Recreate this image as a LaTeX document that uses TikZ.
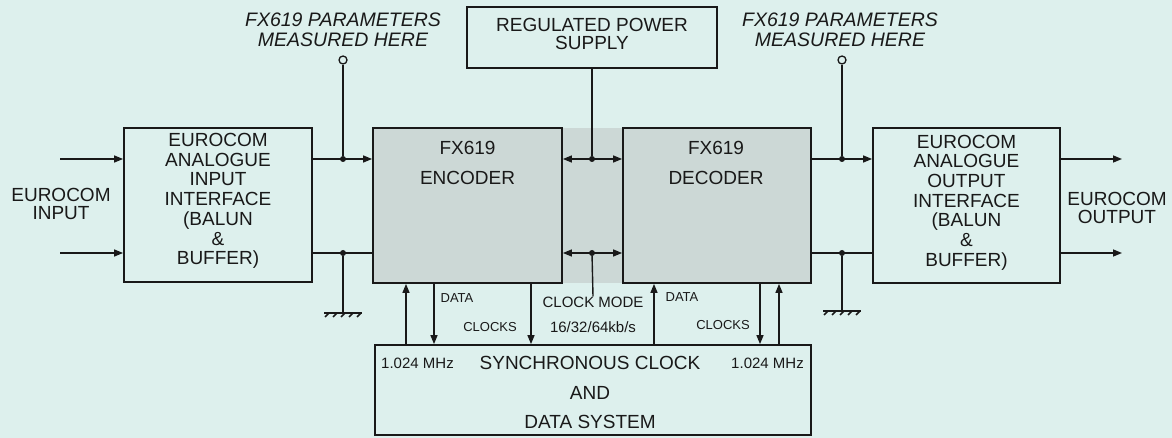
\documentclass[tikz,border=0pt]{standalone}
\usepackage{fontspec}
\setmainfont{Liberation Sans}
\usetikzlibrary{arrows.meta}
\definecolor{bg}{RGB}{221,240,237}
\definecolor{shade}{RGB}{204,216,214}
\definecolor{ink}{RGB}{25,25,25}
\begin{document}
\begin{tikzpicture}[x=1pt,y=-1pt,
  box/.style={draw=ink, line width=1.8pt, inner sep=0pt, rectangle},
  sbox/.style={box, fill=shade},
  wire/.style={draw=ink, line width=1.4pt},
  arr/.style={wire, -{Triangle[length=9pt,width=7pt]}},
  darr/.style={wire, {Triangle[length=9pt,width=7pt]}-{Triangle[length=9pt,width=7pt]}},
  big/.style={text=ink, align=center, font=\fontsize{19}{19.7}\selectfont, inner sep=0pt},
  ital/.style={text=ink, align=center, font=\fontsize{19.5}{20}\selectfont\itshape, inner sep=0pt},
  small/.style={text=ink, align=center, font=\fontsize{13}{14}\selectfont, inner sep=0pt},
  mid/.style={text=ink, align=center, font=\fontsize{15}{16}\selectfont, inner sep=0pt},
  dot/.style={circle, fill=ink, minimum size=6pt, inner sep=0pt},
  probe/.style={circle, draw=ink, line width=1.3pt, minimum size=8pt, inner sep=0pt, fill=bg},
  gnd/.style={draw=ink, line width=1.6pt}
]
\fill[bg] (0,0) rectangle (1172,438);
\useasboundingbox (0,0) rectangle (1172,438);

% shaded gap between encoder and decoder
\node[fill=shade, minimum width=61pt, minimum height=155pt, inner sep=0pt] (gap) at (592.5,205.5) {};

% boxes
\node[box, minimum width=188pt, minimum height=154pt] (inbox) at (218,205) {};
\node[sbox, minimum width=189pt, minimum height=155pt] (enc) at (467.5,205.5) {};
\node[sbox, minimum width=188pt, minimum height=155pt] (dec) at (717,205.5) {};
\node[box, minimum width=187pt, minimum height=155pt] (outbox) at (966.5,205.5) {};
\node[box, minimum width=250pt, minimum height=61pt] (psu) at (592,37.5) {};
\node[box, minimum width=436pt, minimum height=90pt] (sync) at (593,390) {};

% box texts
\node[big] (tin) at (218,201) {EUROCOM\\ANALOGUE\\INPUT\\INTERFACE\\(BALUN\\\&\\BUFFER)};
\node[big] (tout) at (966.5,202.5) {EUROCOM\\ANALOGUE\\OUTPUT\\INTERFACE\\(BALUN\\\&\\BUFFER)};
\node[big, font=\fontsize{19}{30}\selectfont] (tenc) at (467.5,163) {FX619\\ENCODER};
\node[big, font=\fontsize{19}{30}\selectfont] (tdec) at (716,163) {FX619\\DECODER};
\node[big, font=\fontsize{19}{18}\selectfont] (tpsu) at (592,34) {REGULATED POWER\\SUPPLY};
\node[big, font=\fontsize{19}{29.5}\selectfont] (tsync) at (590,392.5) {SYNCHRONOUS CLOCK\\AND\\DATA SYSTEM};
\node[big, font=\fontsize{19}{17.5}\selectfont] (tei) at (61,204) {EUROCOM\\INPUT};
\node[big, font=\fontsize{19}{17.5}\selectfont] (teo) at (1117,208) {EUROCOM\\OUTPUT};

% probe labels
\node[ital] (pl1) at (343,30) {FX619 PARAMETERS\\MEASURED HERE};
\node[ital] (pl2) at (840,30) {FX619 PARAMETERS\\MEASURED HERE};

% small labels
\node[small] (d1) at (457,298) {DATA};
\node[small] (c1) at (490,327) {CLOCKS};
\node[small] (d2) at (682,297) {DATA};
\node[small] (c2) at (723,325) {CLOCKS};
\node[mid] (cm) at (593,302) {CLOCK MODE};
\node[mid] (rate) at (593,327) {16/32/64kb/s};
\node[mid] (m1) at (417.5,363) {1.024 MHz};
\node[mid] (m2) at (767.5,363) {1.024 MHz};

% junction dots and probes
\node[dot] (jL1) at (343,159) {};
\node[dot] (jL2) at (343,253) {};
\node[dot] (jR1) at (842,159) {};
\node[dot] (jR2) at (842,253) {};
\node[dot] (jM1) at (592,159) {};
\node[dot] (jM2) at (592,253) {};
\node[probe] (pL) at (343,60) {};
\node[probe] (pR) at (842,60) {};

% input / output leads
\coordinate (i1) at (60,159);
\coordinate (i2) at (60,253);
\coordinate (o1) at (1122,159);
\coordinate (o2) at (1122,253);
\draw[arr] (i1) -- (i1 -| inbox.west);
\draw[arr] (i2) -- (i2 -| inbox.west);
\draw[arr] (o1 -| outbox.east) -- (o1);
\draw[arr] (o2 -| outbox.east) -- (o2);

% interface to codec
\draw[arr] (jL1 -| inbox.east) -- (jL1 -| enc.west);
\draw[wire] (jL2 -| inbox.east) -- (jL2 -| enc.west);
\draw[arr] (jR1 -| dec.east) -- (jR1 -| outbox.west);
\draw[wire] (jR2 -| dec.east) -- (jR2 -| outbox.west);

% probes
\draw[wire] (pL) -- (jL1);
\draw[wire] (pR) -- (jR1);

% grounds
\coordinate (gL) at (343,313);
\coordinate (gR) at (842,311);
\draw[wire] (jL2) -- (gL);
\draw[wire] (jR2) -- (gR);
\foreach \g in {gL,gR}{
  \draw[gnd] ([xshift=-19pt]\g) -- ([xshift=19pt]\g);
  \foreach \k in {0,1,2,3,4}{
    \draw[draw=ink, line width=1.6pt] ([xshift=-14pt+\k*8pt]\g) -- ++(-4,4);
  }
}

% between encoder and decoder
\draw[darr] (jM1 -| enc.east) -- (jM1 -| dec.west);
\draw[darr] (jM2 -| enc.east) -- (jM2 -| dec.west);
\draw[wire] (psu) -- (jM1);
\draw[wire] (jM2) -- (cm.north);

% clock / data links
\coordinate (e1) at (406,0);
\coordinate (e2) at (434,0);
\coordinate (e3) at (531,0);
\coordinate (f1) at (654,0);
\coordinate (f2) at (760,0);
\coordinate (f3) at (779,0);
\draw[arr] (e1 |- sync.north) -- (e1 |- enc.south);
\draw[arr] (e2 |- enc.south) -- (e2 |- sync.north);
\draw[arr] (e3 |- enc.south) -- (e3 |- sync.north);
\draw[arr] (f1 |- sync.north) -- (f1 |- dec.south);
\draw[arr] (f2 |- dec.south) -- (f2 |- sync.north);
\draw[arr] (f3 |- sync.north) -- (f3 |- dec.south);
\end{tikzpicture}
\end{document}
